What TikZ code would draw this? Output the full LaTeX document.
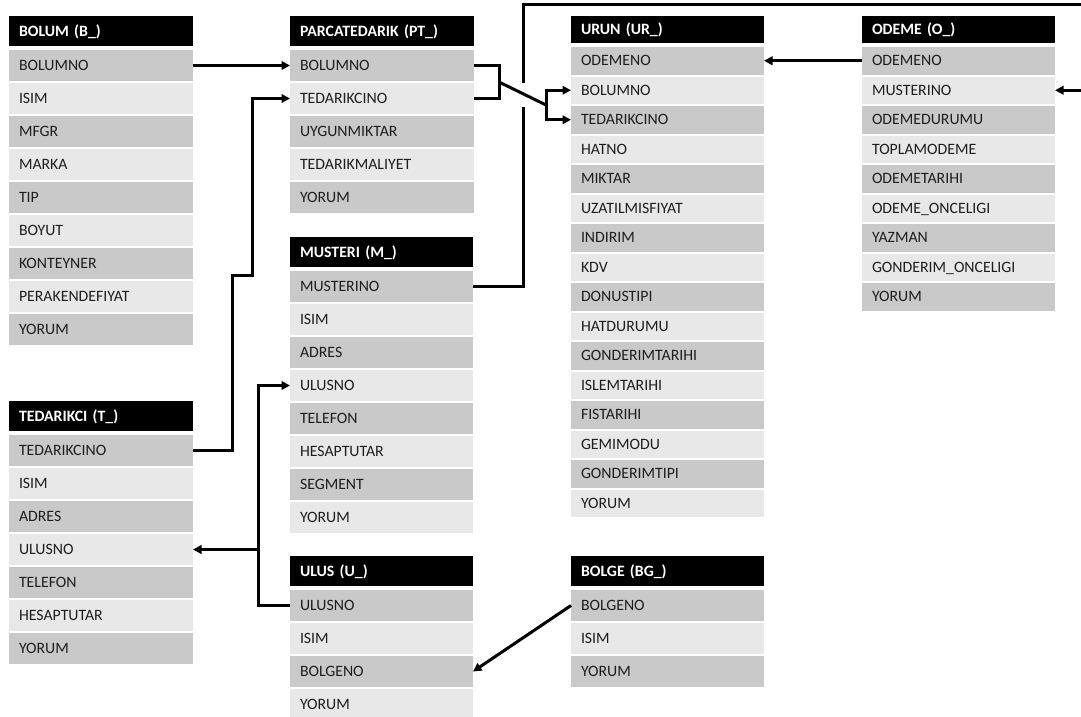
\documentclass[tikz,border=0pt]{standalone}
\usepackage{fontspec}
\setmainfont{Carlito}
\usetikzlibrary{arrows.meta,calc}

\definecolor{rowcol1}{RGB}{201,201,201}
\definecolor{rowcol0}{RGB}{232,232,232}
\definecolor{celltext}{RGB}{30,30,30}

\tikzset{
  hdrcell/.style={anchor=north west, fill=black, text=white, draw=none,
    font=\bfseries\fontsize{15.8}{19}\selectfont, inner xsep=10pt, inner ysep=0pt,
    outer sep=0pt, align=left, text height=10.2pt, text depth=0pt},
  rowcell/.style={anchor=north west, text=celltext, draw=none,
    font=\fontsize{15.8}{19}\selectfont, inner xsep=10pt, inner ysep=0pt,
    outer sep=0pt, align=left, text height=10.2pt, text depth=0pt},
  conn/.style={line width=3pt, black},
  fk/.style={conn, -{Triangle[length=8.5pt,width=8.5pt]}},
  fkboth/.style={conn, {Triangle[length=8.5pt,width=8.5pt]}-{Triangle[length=8.5pt,width=8.5pt]}},
}

% layout parameters of a table: header height, gap, row height, row pitch
\def\erHdrH{30}\def\erGap{4}\def\erRowH{31}\def\erPitch{33}

% #1 name, #2 x, #3 y (top), #4 width, #5 title, #6 column list
\newcommand\erTable[6]{%
  \pgfmathsetmacro\erTW{#4-20}%
  \node[hdrcell, text width=\erTW pt, minimum height=\erHdrH pt] (#1-h) at (#2,#3) {#5};
  \foreach \erItem [count=\ri] in {#6} {%
    \pgfmathsetmacro\ry{#3+\erHdrH+\erGap+(\ri-1)*\erPitch}%
    \pgfmathtruncatemacro\rp{mod(\ri,2)}%
    \node[rowcell, fill=rowcol\rp, text width=\erTW pt, minimum height=\erRowH pt] (#1-\ri) at (#2,\ry) {\erItem};
  }%
}

\begin{document}
\begin{tikzpicture}[x=1pt,y=-1pt]
\useasboundingbox (0,0) rectangle (1081,717);

\erTable{bolum}{9}{16}{184}{BOLUM (B\_)}{BOLUMNO,ISIM,MFGR,MARKA,TIP,BOYUT,KONTEYNER,PERAKENDEFIYAT,YORUM}
\erTable{pt}{290}{16}{184}{PARCATEDARIK (PT\_)}{BOLUMNO,TEDARIKCINO,UYGUNMIKTAR,TEDARIKMALIYET,YORUM}
\erTable{mus}{290}{237}{183}{MUSTERI (M\_)}{MUSTERINO,ISIM,ADRES,ULUSNO,TELEFON,HESAPTUTAR,SEGMENT,YORUM}
\erTable{ted}{9}{401}{184}{TEDARIKCI (T\_)}{TEDARIKCINO,ISIM,ADRES,ULUSNO,TELEFON,HESAPTUTAR,YORUM}
\erTable{ulus}{290}{556}{183}{ULUS (U\_)}{ULUSNO,ISIM,BOLGENO,YORUM}
\erTable{bolge}{571}{556}{193}{BOLGE (BG\_)}{BOLGENO,ISIM,YORUM}

\def\erHdrH{27}\def\erGap{4}\def\erRowH{27.5}\def\erPitch{29.5}
\erTable{urun}{571}{16}{193}{URUN (UR\_)}{ODEMENO,BOLUMNO,TEDARIKCINO,HATNO,MIKTAR,UZATILMISFIYAT,INDIRIM,KDV,DONUSTIPI,HATDURUMU,GONDERIMTARIHI,ISLEMTARIHI,FISTARIHI,GEMIMODU,GONDERIMTIPI,YORUM}
\erTable{odeme}{862}{16}{193}{ODEME (O\_)}{ODEMENO,MUSTERINO,ODEMEDURUMU,TOPLAMODEME,ODEMETARIHI,ODEME\_ONCELIGI,YAZMAN,GONDERIM\_ONCELIGI,YORUM}

% routing points
\coordinate (tA) at (232,275);
\coordinate (tB) at (252,275);
\coordinate (ptB) at (499,0);
\coordinate (urB) at (546,0);
\coordinate (hopLo) at (523,107);
\coordinate (hopHi) at (523,83);
\coordinate (topR) at (1082,5);
\coordinate (uCol) at (258,0);

% BOLUM -> PARCATEDARIK
\draw[fk] (bolum-1.east) -- (pt-1.west);
% TEDARIKCI -> PARCATEDARIK
\draw[fk] (ted-1.east) -| (tA) -- (tB) |- (pt-2.west);
% PARCATEDARIK (BOLUMNO, TEDARIKCINO) -> URUN
\draw[conn] (pt-1.east) -- (pt-1.east -| ptB) -- (pt-2.east -| ptB) -- (pt-2.east);
\coordinate (brk) at ($(pt-1.east -| ptB)!0.5!(pt-2.east -| ptB)$);
\coordinate (brkR) at ($(urun-2.west -| urB)!0.5!(urun-3.west -| urB)$);
\draw[conn] (brk) -- (brkR);
\draw[fkboth] (urun-2.west) -- (urun-2.west -| urB) -- (urun-3.west -| urB) -- (urun-3.west);
% MUSTERI -> ODEME (with a hop over the crossing line)
\draw[conn] (mus-1.east) -| (hopLo);
\draw[fk] (hopHi) |- (topR) |- (odeme-2.east);
% ODEME -> URUN
\draw[fk] (odeme-1.west) -- (urun-1.east);
% ULUS -> MUSTERI, TEDARIKCI
\draw[fk] (ulus-1.west) -| (mus-4.west -| uCol) -- (mus-4.west);
\draw[fk] (ted-4.east -| uCol) -- (ted-4.east);
% BOLGE -> ULUS
\draw[fk] (bolge-1.west) -- (ulus-3.east);
\end{tikzpicture}
\end{document}
